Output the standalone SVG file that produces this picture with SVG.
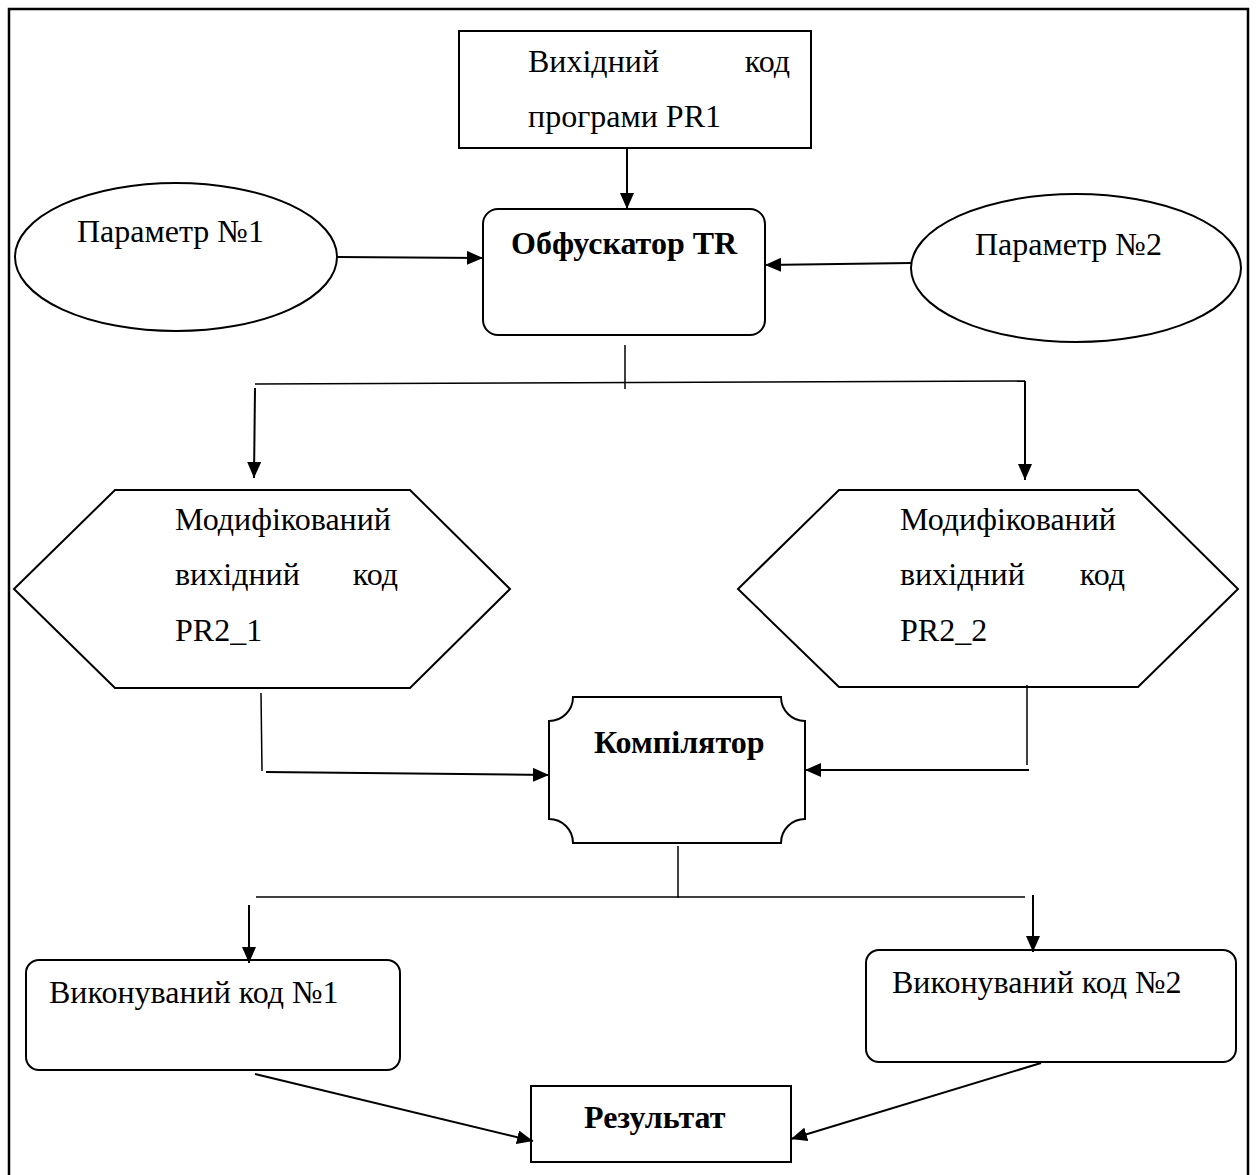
<svg xmlns="http://www.w3.org/2000/svg" width="1259" height="1175" viewBox="0 0 1259 1175">
<defs>
<style>
.s{fill:#fff;stroke:#000;stroke-width:2}
.t{font-family:"Liberation Serif","Times New Roman",serif;font-size:32px;fill:#000}
.b{font-weight:bold}
.c{fill:none;stroke:#000;stroke-width:2}
.c1{fill:none;stroke:#000;stroke-width:1.5}
</style>
<marker id="ah" markerWidth="16" markerHeight="14" refX="16" refY="7" orient="auto" markerUnits="userSpaceOnUse">
<path d="M0,0 L16,7 L0,14 z" fill="#000"/>
</marker>
</defs>
<rect width="1259" height="1175" fill="#fff"/>
<path d="M9,1180 L9,9 L1248,9 L1248,1180" fill="none" stroke="#000" stroke-width="2.5"/>

<g id="source">
<rect class="s" x="459" y="31" width="352" height="117"/>
<text class="t" x="528" y="72">Вихідний</text>
<text class="t" x="790" y="72" text-anchor="end">код</text>
<text class="t" x="528" y="127">програми PR1</text>
</g>

<g id="param1">
<ellipse class="s" cx="176" cy="257" rx="161" ry="74"/>
<text class="t" x="77" y="242">Параметр №1</text>
</g>

<g id="obfuscator">
<rect class="s" x="483" y="209" width="282" height="126" rx="15"/>
<text class="t b" x="511" y="254">Обфускатор TR</text>
</g>

<g id="param2">
<ellipse class="s" cx="1076" cy="268" rx="165" ry="74"/>
<text class="t" x="975" y="255">Параметр №2</text>
</g>

<g id="mod1">
<polygon class="s" points="14,589 115,490 410,490 510,589 410,688 115,688"/>
<text class="t" x="175" y="530">Модифікований</text>
<text class="t" x="175" y="585">вихідний</text>
<text class="t" x="398" y="585" text-anchor="end">код</text>
<text class="t" x="175" y="641">PR2_1</text>
</g>

<g id="mod2">
<polygon class="s" points="738,589 839,490 1138,490 1238,589 1138,687 839,687"/>
<text class="t" x="900" y="530">Модифікований</text>
<text class="t" x="900" y="585">вихідний</text>
<text class="t" x="1125" y="585" text-anchor="end">код</text>
<text class="t" x="900" y="641">PR2_2</text>
</g>

<g id="compiler">
<path class="s" d="M573,697 L781,697 A24,24 0 0 0 805,721 L805,819 A24,24 0 0 0 781,843 L573,843 A24,24 0 0 0 549,819 L549,721 A24,24 0 0 0 573,697 Z"/>
<text class="t b" x="594" y="753">Компілятор</text>
</g>

<g id="exec1">
<rect class="s" x="26" y="960" width="374" height="110" rx="13"/>
<text class="t" x="49" y="1003">Виконуваний код №1</text>
</g>

<g id="exec2">
<rect class="s" x="866" y="950" width="370" height="112" rx="13"/>
<text class="t" x="892" y="993">Виконуваний код №2</text>
</g>

<g id="result">
<rect class="s" x="531" y="1086" width="260" height="76"/>
<text class="t b" x="584" y="1128">Результат</text>
</g>

<g id="connectors">
<line class="c" x1="627" y1="148" x2="627" y2="209" marker-end="url(#ah)"/>
<line class="c" x1="337" y1="257" x2="483" y2="258" marker-end="url(#ah)"/>
<line class="c" x1="911" y1="263" x2="765" y2="265" marker-end="url(#ah)"/>
<line class="c1" x1="625" y1="345" x2="625" y2="389"/>
<line class="c1" x1="255" y1="384" x2="1025" y2="381"/>
<line class="c" x1="255" y1="388" x2="254" y2="478" marker-end="url(#ah)"/>
<line class="c" x1="1025" y1="381" x2="1025" y2="480" marker-end="url(#ah)"/>
<line class="c1" x1="261" y1="693" x2="262" y2="771"/>
<line class="c" x1="266" y1="772" x2="549" y2="775" marker-end="url(#ah)"/>
<line class="c1" x1="1027" y1="685" x2="1027" y2="765"/>
<line class="c" x1="1029" y1="770" x2="805" y2="770" marker-end="url(#ah)"/>
<line class="c1" x1="678" y1="846" x2="678" y2="898"/>
<line class="c1" x1="256" y1="897" x2="1025" y2="897"/>
<line class="c" x1="249" y1="905" x2="249" y2="963" marker-end="url(#ah)"/>
<line class="c" x1="1033" y1="895" x2="1033" y2="952" marker-end="url(#ah)"/>
<line class="c" x1="255" y1="1074" x2="533" y2="1141" marker-end="url(#ah)"/>
<line class="c" x1="1041" y1="1063" x2="791" y2="1139" marker-end="url(#ah)"/>
</g>
</svg>
